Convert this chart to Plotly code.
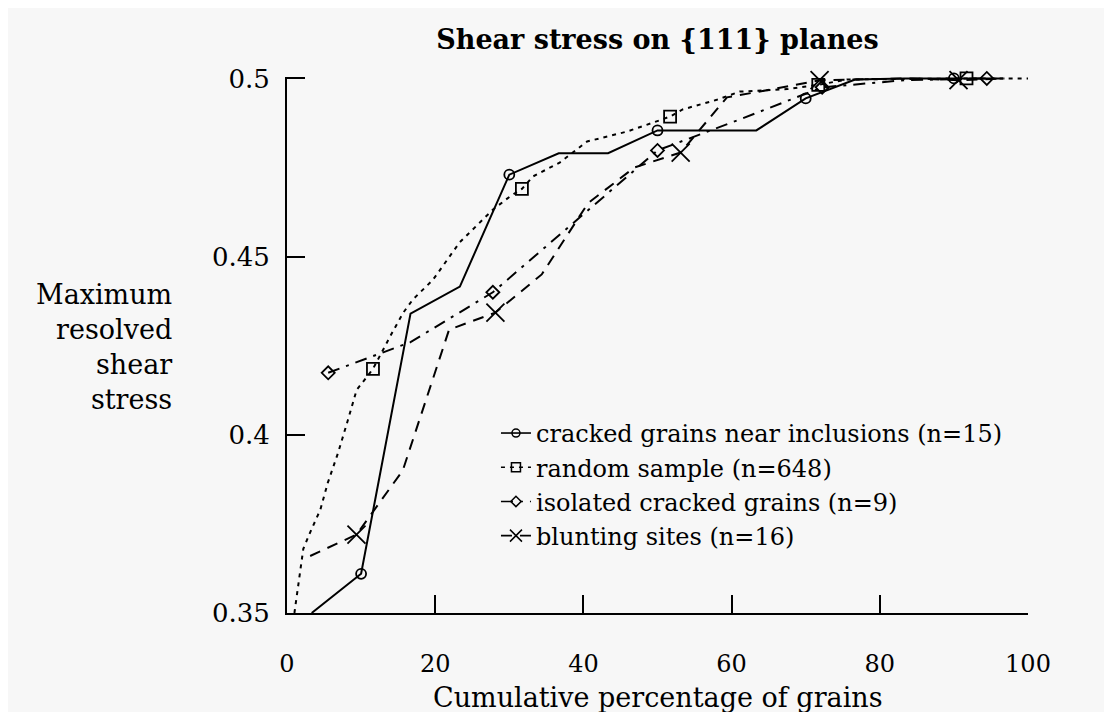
import plotly.graph_objects as go

# cracked grains near inclusions (n=15)
inc_x = [3.33, 10.0, 16.67, 23.33, 30.0, 36.67, 43.33, 50.0, 56.67, 63.33, 70.0, 76.67, 83.33, 90.0, 96.67]
inc_y = [0.350, 0.361, 0.434, 0.4416, 0.473, 0.479, 0.479, 0.4854, 0.4854, 0.4854, 0.4944, 0.4997, 0.5, 0.5, 0.5]
inc_mk = [1, 4, 7, 10, 13]

# random sample (n=648)
rnd_x = [1.0, 1.8, 2.2, 3.1, 4.5, 5.5, 6.9, 8.2, 9.4, 10.8, 11.6, 14.2, 15.7, 17.0, 19.7, 23.3, 27.8, 30.1,
         31.7, 33.2, 36.8, 40.5, 45.9, 49.4, 51.7, 53.4, 58.0, 61.1, 67.5, 70.2, 71.7, 75.6, 85.0, 91.7, 100.0]
rnd_y = [0.350, 0.363, 0.368, 0.3725, 0.379, 0.3865, 0.395, 0.404, 0.4126, 0.4163, 0.4185, 0.4287, 0.4343,
         0.438, 0.4435, 0.454, 0.4632, 0.4669, 0.469, 0.4725, 0.4764, 0.4823, 0.4851, 0.4876, 0.4893, 0.4913,
         0.494, 0.4963, 0.497, 0.4978, 0.4982, 0.4997, 0.4999, 0.5, 0.5]
rnd_mk = [10, 18, 24, 30, 33]

# isolated cracked grains (n=9)
iso_x = [5.56, 16.67, 27.78, 38.89, 50.0, 61.11, 72.22, 83.33, 94.44]
iso_y = [0.4174, 0.426, 0.440, 0.460, 0.4798, 0.4885, 0.4975, 0.4995, 0.5]
iso_mk = [0, 2, 4, 6, 8]

# blunting sites (n=16)
blu_x = [3.125, 9.375, 15.625, 21.875, 28.125, 34.375, 40.625, 46.875, 53.125, 59.375, 65.625, 71.875,
         78.125, 84.375, 90.625, 96.875]
blu_y = [0.366, 0.372, 0.390, 0.4295, 0.4343, 0.445, 0.465, 0.475, 0.4792, 0.4947, 0.497, 0.4995,
         0.4998, 0.5, 0.4995, 0.5]
blu_mk = [1, 4, 8, 11, 14]

names = ["cracked grains near inclusions (n=15)", "random sample (n=648)",
         "isolated cracked grains (n=9)", "blunting sites (n=16)"]
x_ticks = [0, 20, 40, 60, 80, 100]
y_ticks = [0.35, 0.4, 0.45, 0.5]
y_ticktext = ["0.35", "0.4", "0.45", "0.5"]

series = [
    (inc_x, inc_y, inc_mk, "solid", "circle-open", 10, 8),
    (rnd_x, rnd_y, rnd_mk, "4px,5px", "square-open", 12, 9),
    (iso_x, iso_y, iso_mk, "12px,7px,3px,7px", "diamond-open", 10, 8),
    (blu_x, blu_y, blu_mk, "11px,8px", "x-thin-open", 18, 12),
]

fig = go.Figure()
for (xs, ys, mk, dash, sym, msize, lsize), name in zip(series, names):
    fig.add_trace(go.Scatter(x=xs, y=ys, mode="lines", showlegend=False,
                             line=dict(color="black", width=2, dash=dash), hoverinfo="skip"))
    fig.add_trace(go.Scatter(x=[xs[i] for i in mk], y=[ys[i] for i in mk], mode="markers",
                             showlegend=False, cliponaxis=False,
                             marker=dict(symbol=sym, size=msize, color="black",
                                         line=dict(color="black", width=1.8))))
    fig.add_trace(go.Scatter(x=[None], y=[None], mode="lines+markers", name=name,
                             line=dict(color="black", width=1.6, dash=dash),
                             marker=dict(symbol=sym, size=lsize, color="black",
                                         line=dict(color="black", width=1.5))))

axis_common = dict(showgrid=False, zeroline=False, showline=True, linecolor="black", linewidth=2,
                   ticks="inside", ticklen=18, tickwidth=2, tickcolor="black")

W, H = 1096, 704
fig.update_layout(
    width=W, height=H,
    margin=dict(l=279, r=76, t=69, b=99),
    paper_bgcolor="#f7f7f7", plot_bgcolor="#f7f7f7",
    font=dict(family="DejaVu Serif", size=24, color="black"),
    title=dict(text="<b>Shear stress on {111} planes</b>", x=0.5, xref="paper", xanchor="center",
               y=1 - 32 / H, yref="container", yanchor="middle",
               font=dict(family="DejaVu Serif", size=27, color="black")),
    xaxis=dict(range=[0, 100], tickvals=x_ticks, ticklabelstandoff=28,
               tickfont=dict(family="DejaVu Serif", size=24, color="black"), **axis_common),
    yaxis=dict(range=[0.35, 0.5004], tickvals=y_ticks, ticktext=y_ticktext, ticklabelstandoff=10,
               tickfont=dict(family="DejaVu Serif", size=26, color="black"), **axis_common),
    legend=dict(x=0.282, y=0.377, xanchor="left", yanchor="top", bgcolor="rgba(0,0,0,0)",
                font=dict(family="DejaVu Serif", size=24, color="black"), tracegroupgap=0),
    showlegend=True,
)

fig.add_annotation(text="Cumulative percentage of grains", xref="paper", yref="paper",
                   x=0.5, y=-(689 - 605) / 536, xanchor="center", yanchor="middle",
                   showarrow=False, font=dict(family="DejaVu Serif", size=27, color="black"))
fig.add_annotation(text="Maximum<br>resolved<br>shear<br>stress", xref="paper", yref="paper",
                   x=-(279 - 166) / 741, y=(605 - 339) / 536, xanchor="right", yanchor="middle",
                   align="right", showarrow=False,
                   font=dict(family="DejaVu Serif", size=27, color="black"))

fig.write_html("out.html")
